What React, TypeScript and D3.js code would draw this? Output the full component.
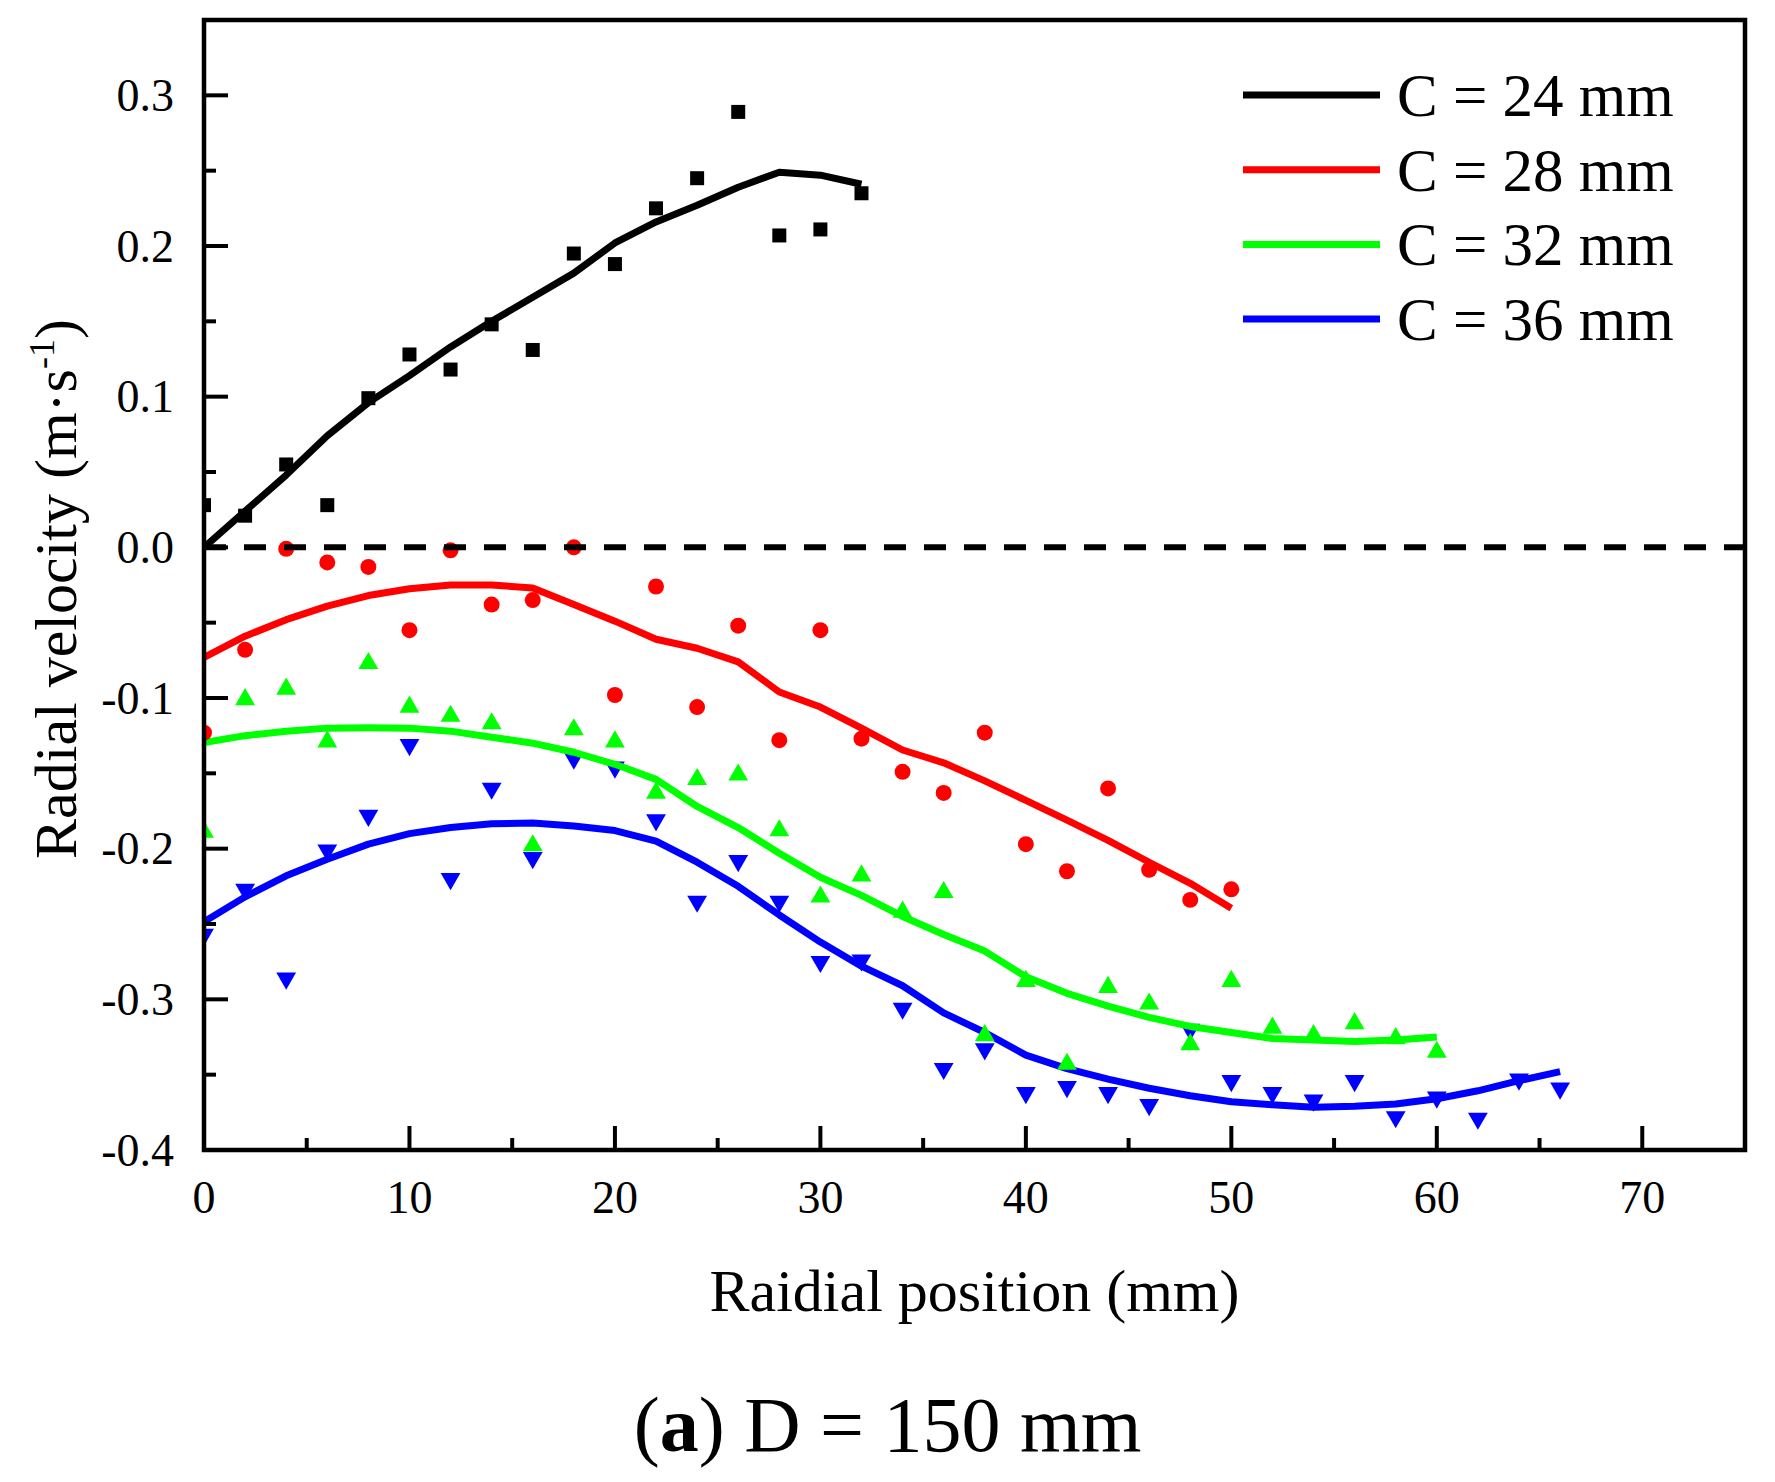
import * as d3 from 'd3'

// chart size and plot frame (px)
const W = 1775
const H = 1482
const margin = { top: 20, right: 30, bottom: 332, left: 204 }

// axes
const xTicks = [0, 10, 20, 30, 40, 50, 60, 70]
const xMinorTicks = [5, 15, 25, 35, 45, 55, 65]
const yTicks = [-0.4, -0.3, -0.2, -0.1, 0, 0.1, 0.2, 0.3]
const yTickLabels = ['-0.4', '-0.3', '-0.2', '-0.1', '0.0', '0.1', '0.2', '0.3']
const yMinorTicks = [-0.35, -0.25, -0.15, -0.05, 0.05, 0.15, 0.25]

// series
const seriesNames = ['C = 24 mm', 'C = 28 mm', 'C = 32 mm', 'C = 36 mm']
const seriesColors = ['#000000', '#ff0000', '#00ff00', '#0000ff']

// C = 24 mm
const posC24 = [0, 2, 4, 6, 8, 10, 12, 14, 16, 18, 20, 22, 24, 26, 28, 30, 32]
const measC24 = [0.028, 0.021, 0.055, 0.028, 0.099, 0.128, 0.118, 0.148, 0.131, 0.195, 0.188, 0.225, 0.245, 0.289, 0.207, 0.211, 0.235]
const fitC24 = [0, 0.024, 0.048, 0.074, 0.096, 0.114, 0.133, 0.150, 0.166, 0.182, 0.202, 0.216, 0.227, 0.239, 0.249, 0.247, 0.241]

// C = 28 mm
const posC28 = [0, 2, 4, 6, 8, 10, 12, 14, 16, 18, 20, 22, 24, 26, 28, 30, 32, 34, 36, 38, 40, 42, 44, 46, 48, 50]
const measC28 = [-0.123, -0.068, -0.001, -0.010, -0.013, -0.055, -0.002, -0.038, -0.035, 0.000, -0.098, -0.026, -0.106, -0.052, -0.128, -0.055, -0.127, -0.149, -0.163, -0.123, -0.197, -0.215, -0.160, -0.214, -0.234, -0.227]
const fitC28 = [-0.073, -0.059, -0.048, -0.039, -0.032, -0.0275, -0.025, -0.025, -0.027, -0.038, -0.049, -0.061, -0.067, -0.076, -0.096, -0.106, -0.120, -0.1345, -0.143, -0.155, -0.168, -0.181, -0.1945, -0.209, -0.223, -0.2395]

// C = 32 mm
const posC32 = [0, 2, 4, 6, 8, 10, 12, 14, 16, 18, 20, 22, 24, 26, 28, 30, 32, 34, 36, 38, 40, 42, 44, 46, 48, 50, 52, 54, 56, 58, 60]
const measC32 = [-0.189, -0.101, -0.094, -0.129, -0.077, -0.106, -0.112, -0.117, -0.198, -0.121, -0.129, -0.163, -0.154, -0.151, -0.188, -0.232, -0.218, -0.242, -0.229, -0.324, -0.288, -0.343, -0.292, -0.303, -0.330, -0.288, -0.319, -0.324, -0.316, -0.326, -0.335]
const fitC32 = [-0.1296, -0.125, -0.122, -0.120, -0.1198, -0.120, -0.122, -0.126, -0.130, -0.136, -0.144, -0.154, -0.172, -0.186, -0.203, -0.219, -0.231, -0.245, -0.257, -0.268, -0.285, -0.296, -0.3045, -0.312, -0.318, -0.322, -0.326, -0.327, -0.328, -0.327, -0.325]

// C = 36 mm
const posC36 = [0, 2, 4, 6, 8, 10, 12, 14, 16, 18, 20, 22, 24, 26, 28, 30, 32, 34, 36, 38, 40, 42, 44, 46, 48, 50, 52, 54, 56, 58, 60, 62, 64, 66]
const measC36 = [-0.257, -0.227, -0.286, -0.201, -0.178, -0.131, -0.220, -0.160, -0.206, -0.140, -0.146, -0.181, -0.235, -0.208, -0.235, -0.275, -0.274, -0.306, -0.346, -0.333, -0.362, -0.358, -0.362, -0.370, -0.320, -0.354, -0.362, -0.367, -0.354, -0.378, -0.365, -0.379, -0.353, -0.359]
const fitC36 = [-0.2485, -0.232, -0.218, -0.207, -0.197, -0.190, -0.186, -0.1834, -0.183, -0.185, -0.188, -0.195, -0.209, -0.225, -0.244, -0.262, -0.278, -0.291, -0.309, -0.322, -0.337, -0.346, -0.353, -0.359, -0.364, -0.368, -0.370, -0.3716, -0.371, -0.3695, -0.366, -0.3607, -0.354, -0.348]

const positions = [posC24, posC28, posC32, posC36]
const measured = [measC24, measC28, measC32, measC36]
const fitted = [fitC24, fitC28, fitC32, fitC36]

const FONT = '"Liberation Serif", "Times New Roman", serif'

// marker shapes: square, circle, up triangle, down triangle
const markerPaths = [
  d3.symbol(d3.symbolSquare, 196)()!,
  d3.symbol(d3.symbolCircle, 200)()!,
  d3.symbol(d3.symbolTriangle, 170)()!,
  d3.symbol(d3.symbolTriangle, 170)()!,
]
const markerRotate = [0, 0, 0, 180]

export default function App() {
  const innerW = W - margin.left - margin.right
  const innerH = H - margin.top - margin.bottom

  const x = d3.scaleLinear().domain([0, 75]).range([0, innerW])
  const y = d3.scaleLinear().domain([-0.4, 0.35]).range([innerH, 0])

  const line = (xs: number[]) =>
    d3.line<number>().x((_, i) => x(xs[i])).y(d => y(d))

  const majorLen = 24
  const minorLen = 12

  // last series drawn first, so C = 24 mm ends on top
  const drawOrder = [3, 2, 1, 0]

  return (
    <svg width={W} height={H} viewBox={`0 0 ${W} ${H}`}
      style={{ position: 'absolute', left: 0, top: 0, background: '#fff' }}
      fontFamily={FONT}>
      <defs>
        <clipPath id="plot-clip">
          <rect x={0} y={0} width={innerW} height={innerH} />
        </clipPath>
      </defs>
      <rect width={W} height={H} fill="#fff" />
      <g transform={`translate(${margin.left},${margin.top})`}>
        <g clipPath="url(#plot-clip)">
          {drawOrder.map(s => (
            <g key={seriesNames[s]}>
              {measured[s].map((v, i) => (
                <path key={i} d={markerPaths[s]} fill={seriesColors[s]}
                  transform={`translate(${x(positions[s][i])},${y(v)}) rotate(${markerRotate[s]})`} />
              ))}
              <path d={line(positions[s])(fitted[s]) ?? ''} fill="none"
                stroke={seriesColors[s]} strokeWidth={7} strokeLinejoin="round" />
            </g>
          ))}
          {/* zero reference */}
          <line x1={x(0)} x2={x(75)} y1={y(0)} y2={y(0)}
            stroke="#000" strokeWidth={6} strokeDasharray="22,18" />
        </g>

        {/* frame */}
        <rect x={0} y={0} width={innerW} height={innerH} fill="none" stroke="#000" strokeWidth={4.5} />

        {/* y ticks */}
        {yTicks.map((t, i) => (
          <g key={`yt${i}`}>
            <line x1={0} x2={majorLen} y1={y(t)} y2={y(t)} stroke="#000" strokeWidth={4} />
            <text x={-30} y={y(t)} dy="0.34em" textAnchor="end" fontSize={46}>{yTickLabels[i]}</text>
          </g>
        ))}
        {yMinorTicks.map(t => (
          <line key={`ym${t}`} x1={0} x2={minorLen} y1={y(t)} y2={y(t)} stroke="#000" strokeWidth={4} />
        ))}

        {/* x ticks */}
        {xTicks.map(t => (
          <g key={`xt${t}`}>
            <line x1={x(t)} x2={x(t)} y1={innerH} y2={innerH - majorLen} stroke="#000" strokeWidth={4} />
            <text x={x(t)} y={innerH + 63} textAnchor="middle" fontSize={46}>{t}</text>
          </g>
        ))}
        {xMinorTicks.map(t => (
          <line key={`xm${t}`} x1={x(t)} x2={x(t)} y1={innerH} y2={innerH - minorLen} stroke="#000" strokeWidth={4} />
        ))}

        {/* legend */}
        {seriesNames.map((name, s) => {
          const ly = 75 + s * 74.7
          return (
            <g key={`lg${s}`}>
              <line x1={1243 - margin.left} x2={1380 - margin.left} y1={ly} y2={ly}
                stroke={seriesColors[s]} strokeWidth={7} />
              <text x={1397 - margin.left} y={ly + 21} fontSize={61}>{name}</text>
            </g>
          )
        })}

        {/* axis titles */}
        <text x={innerW / 2} y={innerH + 161} textAnchor="middle" fontSize={60}>Raidial position (mm)</text>
        <text transform={`translate(${76 - margin.left},${innerH / 2 + 4}) rotate(-90)`}
          textAnchor="middle" fontSize={60}>
          Radial velocity (m·s<tspan dy={-22} fontSize={36}>-1</tspan><tspan dy={22}>)</tspan>
        </text>
      </g>

      {/* caption */}
      <text x={W / 2} y={1451} textAnchor="middle" fontSize={78}>
        (<tspan fontWeight="bold">a</tspan>) D = 150 mm
      </text>
    </svg>
  )
}
